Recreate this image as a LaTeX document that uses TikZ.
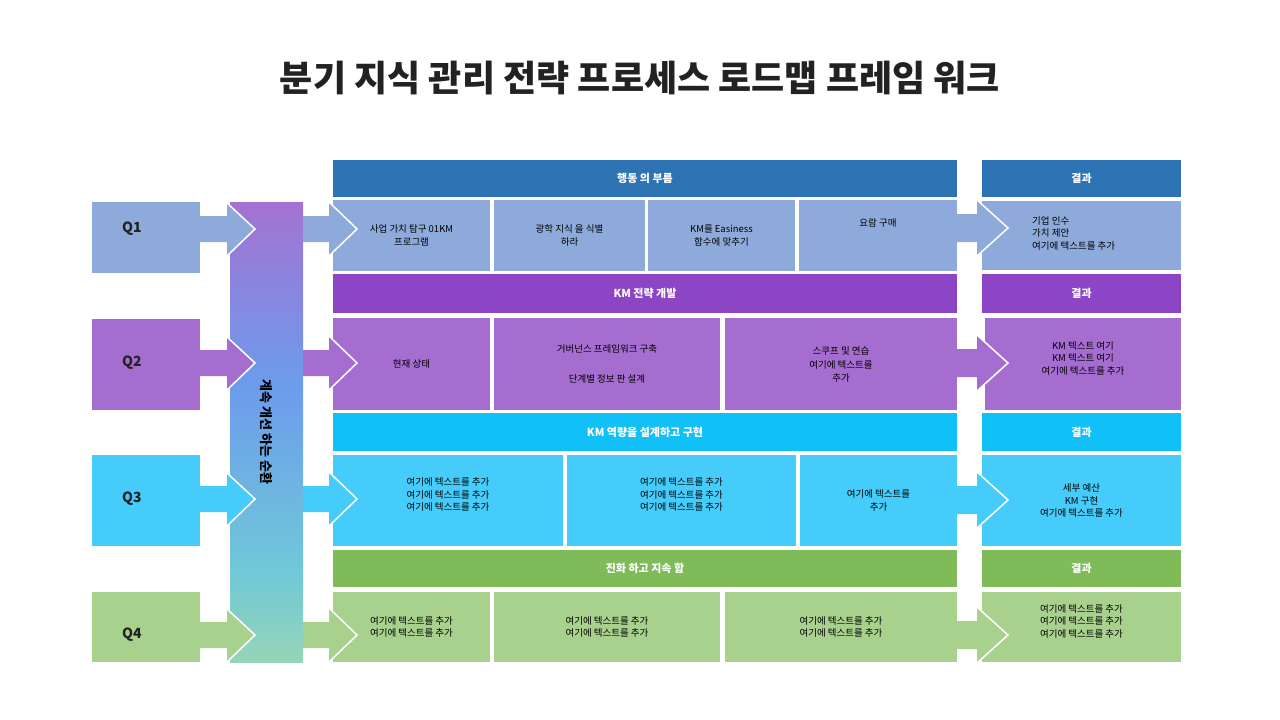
\documentclass[tikz,border=0pt]{standalone}
\usepackage{fontspec}
\setmainfont{Noto Sans CJK KR}
\usepackage{tikz}

\definecolor{hdA}{HTML}{2E74B5}
\definecolor{bxA}{HTML}{8EAADB}
\definecolor{hdB}{HTML}{8B45C5}
\definecolor{bxB}{HTML}{A56DD0}
\definecolor{hdC}{HTML}{12C0F8}
\definecolor{bxC}{HTML}{45CCFA}
\definecolor{hdD}{HTML}{80BB5A}
\definecolor{bxD}{HTML}{A9D18E}
\definecolor{ttl}{HTML}{222222}
\definecolor{gsA}{HTML}{C0E090}
\definecolor{gsB}{HTML}{A8DCA8}
\definecolor{gsC}{HTML}{70C8D8}
\definecolor{gsD}{HTML}{6C9CEC}
\definecolor{gsE}{HTML}{A472D2}
\definecolor{gsF}{HTML}{8FA8DC}

\pgfdeclareverticalshading{cycleshade}{100bp}{%
  color(0bp)=(gsA); color(20bp)=(gsB); color(35bp)=(gsC);
  color(55bp)=(gsD); color(75bp)=(gsE); color(100bp)=(gsF)}

\begin{document}
\begin{tikzpicture}[x=1pt, y=-1pt,
    cell/.style = {anchor=north west, inner sep=0pt, outer sep=0pt, align=center,
                   font=\fontsize{9.5}{12.5}\selectfont, text=black},
    head/.style = {cell, text=white, font=\fontsize{11}{13}\selectfont\bfseries},
    qlabel/.style = {anchor=west, inner sep=0pt, font=\fontsize{14}{16}\selectfont\bfseries, text=ttl},
    chev/.style = {white, line width=1.5pt}]

    \useasboundingbox (0,0) rectangle (1280,720);

    \node[inner sep=0pt, text=ttl, font=\fontsize{36}{40}\selectfont\bfseries] (title) at (640,78)
        {분기 지식 관리 전략 프로세스 로드맵 프레임 워크};

    % gradient bar
    \shade[shading=cycleshade] (230,202) rectangle (303,662);
    \node[rotate=-90, inner sep=0pt, font=\fontsize{13}{15}\selectfont\bfseries] (cycle) at (266,432)
        {계속 개선 하는 순환};

    % quarter boxes with arrows into the bar
    \foreach \ya/\yb/\ty/\col/\lab in {202/273/229/bxA/Q1, 319/410/363/bxB/Q2,
                                       455/546/499/bxC/Q3, 592/662/635/bxD/Q4} {
        \fill[\col] (92,\ya) rectangle (200,\yb);
        \fill[\col] (200,\ty-13) -- (227,\ty-13) -- (227,\ty-26) -- (255,\ty)
                    -- (227,\ty+27) -- (227,\ty+13) -- (200,\ty+13) -- cycle;
        \draw[chev] (227,\ty-26) -- (255,\ty) -- (227,\ty+27);
        \node[qlabel] at (122,\ty) {\lab};
    }

    % row 1
    \node[head, fill=hdA, minimum width=624, minimum height=37] (h1) at (333,160) {행동 의 부름};
    \node[cell, fill=bxA, minimum width=157, minimum height=71] (r1a) at (333,200) {사업 가치 탐구 01KM\\프로그램};
    \node[cell, fill=bxA, minimum width=151, minimum height=71] (r1b) at (494,200) {광학 지식 을 식별\\하라};
    \node[cell, fill=bxA, minimum width=147, minimum height=71] (r1c) at (648,200) {KM를 Easiness\\함수에 맞추기};
    \node[cell, fill=bxA, minimum width=158, minimum height=71] (r1d) at (799,200) {요람 구매\\ \\ };

    % row 2
    \node[head, fill=hdB, minimum width=624, minimum height=39] (h2) at (333,274) {KM 전략 개발};
    \node[cell, fill=bxB, minimum width=157, minimum height=92] (r2a) at (333,318) {현재 상태};
    \node[cell, fill=bxB, minimum width=226, minimum height=92, font=\fontsize{9.5}{30}\selectfont] (r2b) at (494,318)
        {거버넌스 프레임워크 구축\\단계별 정보 판 설계};
    \node[cell, fill=bxB, minimum width=232, minimum height=92] (r2c) at (725,318)
        {스쿠프 및 연습\\[2pt]여기에 텍스트를\\추가};

    % row 3
    \node[head, fill=hdC, minimum width=624, minimum height=38] (h3) at (333,413) {KM 역량을 설계하고 구현};
    \node[cell, fill=bxC, minimum width=230, minimum height=91] (r3a) at (333,455)
        {여기에 텍스트를 추가\\여기에 텍스트를 추가\\여기에 텍스트를 추가\\ };
    \node[cell, fill=bxC, minimum width=229, minimum height=91] (r3b) at (567,455)
        {여기에 텍스트를 추가\\여기에 텍스트를 추가\\여기에 텍스트를 추가\\ };
    \node[cell, fill=bxC, minimum width=157, minimum height=91] (r3c) at (800,455) {여기에 텍스트를\\추가};

    % row 4
    \node[head, fill=hdD, minimum width=624, minimum height=37] (h4) at (333,550) {진화 하고 지속 함};
    \node[cell, fill=bxD, minimum width=157, minimum height=70] (r4a) at (333,592)
        {여기에 텍스트를 추가\\여기에 텍스트를 추가};
    \node[cell, fill=bxD, minimum width=226, minimum height=70] (r4b) at (494,592)
        {여기에 텍스트를 추가\\여기에 텍스트를 추가};
    \node[cell, fill=bxD, minimum width=232, minimum height=70] (r4c) at (725,592)
        {여기에 텍스트를 추가\\여기에 텍스트를 추가};

    % arrows from the bar into the rows
    \foreach \ty/\col in {229/bxA, 363/bxB, 499/bxC, 635/bxD} {
        \fill[\col] (303,\ty-13) -- (329,\ty-13) -- (329,\ty-27) -- (357,\ty)
                    -- (329,\ty+27) -- (329,\ty+13) -- (303,\ty+13) -- cycle;
        \draw[chev] (329,\ty-27) -- (357,\ty) -- (329,\ty+27);
    }

    % results column
    \node[head, fill=hdA, minimum width=199, minimum height=37] (o1h) at (982,160) {결과};
    \node[cell, fill=bxA, minimum width=199, minimum height=69] (o1) at (982,201) {};
    \node[anchor=west, inner sep=0pt, align=left, font=\fontsize{9.5}{12.5}\selectfont] (o1t) at (1032,233)
        {기업 인수\\가치 제안\\여기에 텍스트를 추가};
    \node[head, fill=hdB, minimum width=199, minimum height=39] (o2h) at (982,274) {결과};
    \node[cell, fill=bxB, minimum width=196, minimum height=92] (o2) at (985,318)
        {KM 텍스트 여기\\KM 텍스트 여기\\여기에 텍스트를 추가\\ };
    \node[head, fill=hdC, minimum width=199, minimum height=38] (o3h) at (982,413) {결과};
    \node[cell, fill=bxC, minimum width=199, minimum height=91] (o3) at (982,455)
        {세부 예산\\KM 구현\\여기에 텍스트를 추가};
    \node[head, fill=hdD, minimum width=199, minimum height=37] (o4h) at (982,550) {결과};
    \node[cell, fill=bxD, minimum width=199, minimum height=70] (o4) at (982,592)
        {여기에 텍스트를 추가\\여기에 텍스트를 추가\\여기에 텍스트를 추가\\ };

    % arrows from the rows into the results
    \foreach \ty/\col in {228/bxA, 363/bxB, 500/bxC, 635/bxD} {
        \fill[\col] (957,\ty-14) -- (977,\ty-14) -- (977,\ty-28) -- (1008,\ty)
                    -- (977,\ty+28) -- (977,\ty+14) -- (957,\ty+14) -- cycle;
        \draw[chev] (977,\ty-28) -- (1008,\ty) -- (977,\ty+28);
    }

\end{tikzpicture}
\end{document}
